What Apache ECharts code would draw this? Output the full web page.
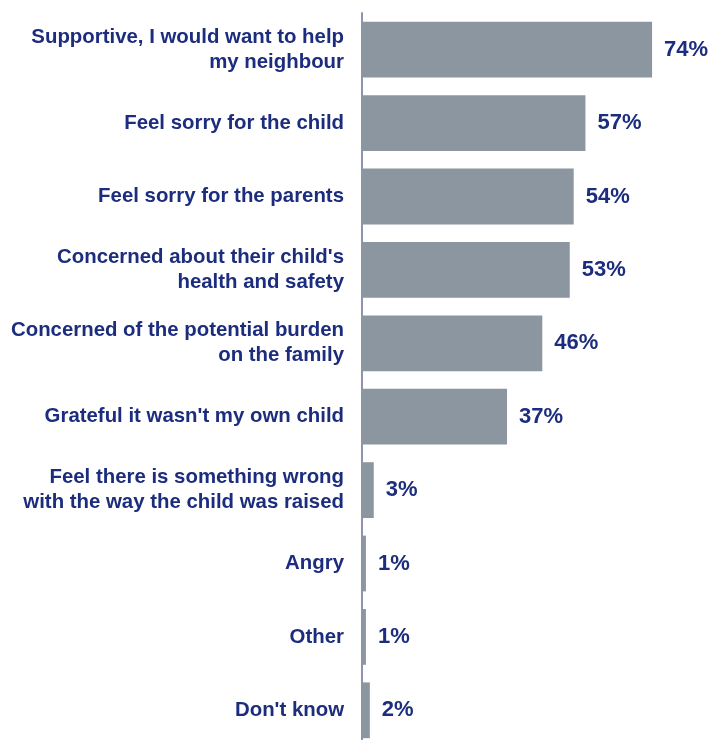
<!DOCTYPE html>
<html>
<head>
<meta charset="utf-8">
<script src="https://cdn.jsdelivr.net/npm/echarts@6/dist/echarts.min.js"></script>
<style>
  html, body { margin: 0; padding: 0; background: #ffffff; }
  #chart { width: 711px; height: 740px; }
</style>
</head>
<body>
<div id="chart"></div>
<script>
// Reactions to a neighbour's child, share of respondents (%)
const categories = [
  'Supportive, I would want to help\nmy neighbour',
  'Feel sorry for the child',
  'Feel sorry for the parents',
  "Concerned about their child's\nhealth and safety",
  'Concerned of the potential burden\non the family',
  "Grateful it wasn't my own child",
  'Feel there is something wrong\nwith the way the child was raised',
  'Angry',
  'Other',
  "Don't know"
];
const values = [74, 57, 54, 53, 46, 37, 3, 1, 1, 2];

const textColor = '#1c2d7e';
const barColor = '#8b96a0';

const chart = echarts.init(document.getElementById('chart'), null, { renderer: 'canvas' });
chart.setOption({
  animation: false,
  grid: {
    left: 362, width: 313.6, top: 13, height: 734,
    containLabel: false,
    outerBoundsMode: 'none'
  },
  xAxis: {
    type: 'value',
    min: 0,
    max: 80,
    show: false
  },
  yAxis: {
    type: 'category',
    inverse: true,
    data: categories,
    axisLine: { show: true, lineStyle: { color: '#8e94b0', width: 2 } },
    axisTick: { show: false },
    axisLabel: {
      margin: 18,
      color: textColor,
      fontFamily: 'Liberation Sans, Arial, sans-serif',
      fontSize: 20.4,
      fontWeight: 'bold',
      lineHeight: 25,
      align: 'right'
    }
  },
  series: [{
    type: 'bar',
    data: values,
    barCategoryGap: '24%',
    itemStyle: { color: barColor },
    label: {
      show: true,
      position: 'right',
      distance: 12,
      formatter: '{c}%',
      color: textColor,
      fontFamily: 'Liberation Sans, Arial, sans-serif',
      fontSize: 22,
      fontWeight: 'bold'
    }
  }]
});
</script>
</body>
</html>
